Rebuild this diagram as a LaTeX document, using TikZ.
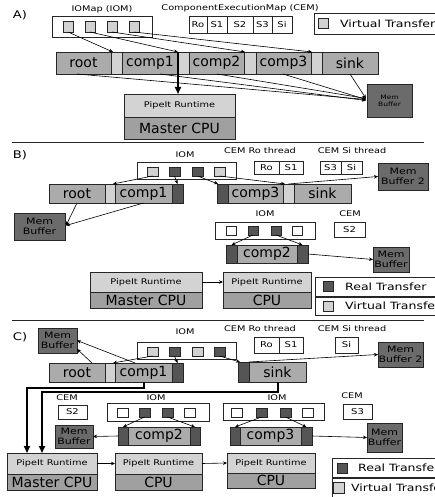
\documentclass[tikz,border=0pt]{standalone}
\usepackage{fontspec}
\setmainfont{DejaVu Sans}
\newfontfamily\wide[FakeStretch=1.25]{DejaVu Sans}
\usetikzlibrary{arrows.meta,calc}

\definecolor{cComp}{HTML}{ABABAB}
\definecolor{cLight}{HTML}{D2D2D2}
\definecolor{cDark}{HTML}{555555}
\definecolor{cMem}{HTML}{6B6B6B}
\definecolor{cRt}{HTML}{D3D3D3}
\definecolor{cCpu}{HTML}{A0A0A0}

% box placed by its top-left corner: name, x, y, width, height, style, text
\newcommand\bx[7]{\node[#6, minimum width=#4pt, minimum height=#5pt] (#1) at (#2,#3) {#7};}

\tikzset{
  base/.style={draw=black!85, line width=0.6pt, anchor=north west, inner sep=0pt, outer sep=0pt},
  plain/.style={base, fill=white},
  comp/.style={base, fill=cComp, font=\fontsize{14}{16}\selectfont},
  lite/.style={base, fill=cLight},
  dark/.style={base, fill=cDark},
  mem/.style={base, fill=cMem, align=center, font=\wide\fontsize{8.8}{9.8}\selectfont},
  memsmall/.style={mem, font=\wide\fontsize{6}{7}\selectfont},
  rt/.style={base, fill=cRt, font=\wide\fontsize{7.8}{9}\selectfont},
  cpu/.style={base, fill=cCpu, font=\fontsize{14}{16}\selectfont},
  cell/.style={base, fill=white, font=\wide\fontsize{8}{9}\selectfont},
  lbl/.style={font=\wide\fontsize{7.8}{9}\selectfont, inner sep=0pt},
  legtext/.style={anchor=west, inner sep=0pt, font=\wide\fontsize{10}{11}\selectfont},
  sec/.style={font=\wide\fontsize{10.5}{12}\selectfont, inner sep=0pt},
  link/.style={line width=0.6pt, -{Stealth[length=4pt,width=3.5pt]}},
  bold/.style={line width=1.6pt, -{Triangle[length=7pt,width=6pt]}},
  rule/.style={line width=0.6pt, draw=black!85},
}

\begin{document}
\begin{tikzpicture}[x=1pt,y=-1pt]
\clip (0,0) rectangle (435,497);
\fill[white] (0,0) rectangle (435,497);

% ---------------- A) single CPU, virtual transfers only ----------------
\node[sec] (secA) at (20,15) {A)};
\node[lbl] (iomAlbl) at (102,9.5) {IOMap (IOM)};
\bx{iomA}{52}{16}{100}{21}{plain}{}
\bx{qA1}{63}{21}{10}{11}{lite}{}
\bx{qA2}{85}{21}{10}{11}{lite}{}
\bx{qA3}{107}{21}{10}{11}{lite}{}
\bx{qA4}{129}{21}{10}{11}{lite}{}

\node[lbl] (cemAlbl) at (240,8) {ComponentExecutionMap (CEM)};
\bx{cRo}{189}{16}{18}{17}{cell}{Ro}
\bx{cS1}{207}{16}{20}{17}{cell}{S1}
\bx{cS2}{227}{16}{26}{17}{cell}{S2}
\bx{cS3}{253}{16}{19}{17}{cell}{S3}
\bx{cSi}{272}{16}{20}{17}{cell}{Si}

\bx{legA}{314}{13}{130}{21}{plain}{}
\bx{legAsq}{318}{18}{10}{10}{lite}{}
\node[legtext] (legAtxt) at (340,23.5) {Virtual Transfer};

\bx{rootA}{56}{52}{55}{22}{comp}{root}
\bx{lA1}{111}{52}{11}{22}{lite}{}
\bx{c1A}{122}{52}{56}{22}{comp}{comp1}
\bx{lA2}{178}{52}{11}{22}{lite}{}
\bx{c2A}{189}{52}{55}{22}{comp}{comp2}
\bx{lA3}{244}{52}{12}{22}{lite}{}
\bx{c3A}{256}{52}{55}{22}{comp}{comp3}
\bx{lA4}{311}{52}{11}{22}{lite}{}
\bx{sinkA}{322}{52}{56}{22}{comp}{sink}

\bx{rtA}{124}{94}{111}{23}{rt}{PipeIt Runtime}
\bx{cpuA}{124}{117}{111}{22}{cpu}{Master CPU}
\bx{memA}{367}{84}{45}{33}{memsmall}{Mem\\Buffer}

\draw[link] (qA1.south) -- ($(lA1.north west)+(2,0)$);
\draw[link] (qA2.south) -- ($(lA2.north west)+(0,0)$);
\draw[link] (qA3.south) -- ($(lA3.north west)+(1,0)$);
\draw[link] (qA4.south) -- ($(lA4.north west)+(1,0)$);

\draw[link] ($(rootA.south west)+(21,0)$) -- ($(memA.west)+(-1,-1)$);
\draw[link] ($(c1A.south west)+(38,0)$) -- ($(memA.west)+(-1,0)$);
\draw[link] ($(c2A.south west)+(28,0)$) -- ($(memA.west)+(-1,-2)$);
\draw[link] ($(c3A.south west)+(27,0)$) -- ($(memA.west)+(-1,-1)$);
\draw[link] ($(sinkA.south west)+(28,0)$) -- ($(memA.west)+(-1,-2)$);
\draw[bold] (lA2.north west) -- (lA2.north west |- rtA.north);

\draw[rule] (12,142) -- (424,142);

% ---------------- B) two CPUs ----------------
\node[sec] (secB) at (20,155) {B)};
\node[lbl] (iomBlbl) at (185,155) {IOM};
\bx{iomB}{137}{162}{99}{17}{plain}{}
\bx{qB1}{147}{167}{11}{9}{lite}{}
\bx{qB2}{169}{167}{11}{9}{dark}{}
\bx{qB3}{192}{167}{11}{9}{dark}{}
\bx{qB4}{214}{167}{11}{9}{lite}{}

\node[lbl] (cemRoB) at (260,151) {CEM Ro thread};
\bx{bRo}{254}{161}{25}{13}{cell}{Ro}
\bx{bS1}{279}{161}{24}{13}{cell}{S1}
\node[lbl] (cemSiB) at (352,151) {CEM Si thread};
\bx{bS3}{320}{161}{21}{13}{cell}{S3}
\bx{bSi}{341}{161}{21}{13}{cell}{Si}

\bx{rootB}{49}{184}{56}{19}{comp}{root}
\bx{lB1}{105}{184}{10}{19}{lite}{}
\bx{c1B}{115}{184}{57}{19}{comp}{comp1}
\bx{dB1}{172}{184}{11}{19}{dark}{}
\bx{dB2}{217}{184}{11}{19}{dark}{}
\bx{c3B}{228}{184}{55}{19}{comp}{comp3}
\bx{lB2}{283}{184}{11}{19}{lite}{}
\bx{sinkB}{294}{184}{57}{19}{comp}{sink}

\bx{memB2}{378}{163}{50}{27}{mem}{Mem\\Buffer 2}
\bx{memB1}{14}{213}{51}{27}{mem}{Mem\\Buffer}

\node[lbl] (iomB2lbl) at (265,214) {IOM};
\bx{iomB2}{215}{222}{100}{17}{plain}{}
\bx{pB1}{226}{226}{10}{9}{plain}{}
\bx{pB2}{248}{226}{10}{9}{dark}{}
\bx{pB3}{271}{226}{10}{9}{dark}{}
\bx{pB4}{292}{226}{10}{9}{plain}{}
\node[lbl] (cemB2lbl) at (350,214) {CEM};
\bx{bS2}{334}{222}{31}{15}{cell}{S2}

\bx{dB3}{226}{245}{11}{18}{dark}{}
\bx{c2B}{237}{245}{60}{18}{comp}{comp2}
\bx{dB4}{297}{245}{11}{18}{dark}{}
\bx{memB3}{373}{247}{36}{25}{mem}{Mem\\Buffer}

\bx{rtB1}{90}{272}{112}{20}{rt}{PipeIt Runtime}
\bx{cpuB1}{90}{292}{112}{16}{cpu}{Master CPU}
\bx{rtB2}{223}{272}{88}{20}{rt}{PipeIt Runtime}
\bx{cpuB2}{223}{292}{88}{16}{cpu}{CPU}

\bx{legBR}{315}{277}{130}{19}{plain}{}
\bx{legBRsq}{323}{281.5}{10}{10}{dark}{}
\node[legtext] (legBRtxt) at (345,286.5) {Real Transfer};
\bx{legBV}{315}{297}{130}{18}{plain}{}
\bx{legBVsq}{323}{301}{10}{10}{lite}{}
\node[legtext] (legBVtxt) at (345,306) {Virtual Transfer};

\draw[link] (qB1.south) -- ($(lB1.north east)+(-2,0)$);
\draw[link] (qB2.south) -- (dB1.north);
\draw[link] (qB3.south) -- ($(dB2.north west)+(1,0)$);
\draw[link] (qB4.south) -- ($(lB2.north west)+(2,0)$);
\draw[link] (lB2.north) -- (memB2.west);
\draw[link] (rootB.south) -- ($(memB1.east)+(1,-1)$);
\draw[link] (c1B.south) -- ($(memB1.east)+(1,-1)$);
\draw[link] (pB2.south) -- (dB3.north);
\draw[link] (pB3.south) -- (dB4.north);
\draw[link] (dB4.east) -- (memB3.west);
\draw[link] (rtB1.east) -- (rtB2.west);

\draw[rule] (12,320) -- (424,320);

% ---------------- C) three CPUs ----------------
\node[sec] (secC) at (20,337) {C)};
\bx{memC1}{38}{328}{39}{25}{mem}{Mem\\Buffer}
\node[lbl] (iomClbl) at (185,332) {IOM};
\bx{iomC}{137}{342}{99}{17}{plain}{}
\bx{qC1}{147}{347}{11}{9}{lite}{}
\bx{qC2}{169}{347}{11}{9}{dark}{}
\bx{qC3}{192}{347}{11}{9}{lite}{}
\bx{qC4}{214}{347}{11}{9}{dark}{}

\node[lbl] (cemRoC) at (260,329) {CEM Ro thread};
\bx{cRoC}{254}{337}{25}{16}{cell}{Ro}
\bx{cS1C}{279}{337}{24}{16}{cell}{S1}
\node[lbl] (cemSiC) at (352,329) {CEM Si thread};
\bx{cSiC}{335}{337}{23}{16}{cell}{Si}
\bx{memC2}{378}{342}{45}{25}{mem}{Mem\\Buffer 2}

\bx{rootC}{49}{363}{56}{19}{comp}{root}
\bx{lC1}{105}{363}{10}{19}{lite}{}
\bx{c1C}{115}{363}{57}{19}{comp}{comp1}
\bx{dC1}{172}{363}{11}{19}{dark}{}
\bx{dC2}{238}{362}{11}{20}{dark}{}
\bx{sinkC}{249}{362}{57}{20}{comp}{sink}

% comp2 on the second CPU
\node[lbl] (cemC2lbl) at (67,398) {CEM};
\bx{cS2C}{58}{405}{29}{14}{cell}{S2}
\node[lbl] (iomC2lbl) at (156,398) {IOM};
\bx{iomC2}{107}{403}{102}{18}{plain}{}
\bx{pC1}{117}{408}{11}{9}{plain}{}
\bx{pC2}{139}{408}{11}{9}{dark}{}
\bx{pC3}{162}{408}{11}{9}{dark}{}
\bx{pC4}{184}{408}{11}{9}{plain}{}
\bx{dC3}{118}{427}{10}{18}{dark}{}
\bx{c2C}{128}{427}{62}{18}{comp}{comp2}
\bx{dC4}{190}{427}{10}{18}{dark}{}
\bx{memC3}{55}{425}{38}{23}{mem}{Mem\\Buffer}

% comp3 on the third CPU
\node[lbl] (iomC3lbl) at (277,398) {IOM};
\bx{iomC3}{223}{403}{101}{17}{plain}{}
\bx{rC1}{231}{408}{11}{9}{plain}{}
\bx{rC2}{256}{408}{11}{9}{dark}{}
\bx{rC3}{280}{408}{11}{9}{dark}{}
\bx{rC4}{302}{408}{11}{9}{plain}{}
\node[lbl] (cemC3lbl) at (352,396) {CEM};
\bx{cS3C}{343}{404}{29}{15}{cell}{S3}
\bx{dC5}{230}{427}{10}{18}{dark}{}
\bx{c3C}{240}{427}{61}{18}{comp}{comp3}
\bx{dC6}{301}{427}{11}{18}{dark}{}
\bx{memC4}{367}{423}{35}{29}{mem}{Mem\\Buffer}

\bx{rtC1}{7}{453}{90}{21}{rt}{PipeIt Runtime}
\bx{cpuC1}{7}{474}{90}{16}{cpu}{Master CPU}
\bx{rtC2}{115}{453}{87}{21}{rt}{PipeIt Runtime}
\bx{cpuC2}{115}{474}{87}{16}{cpu}{CPU}
\bx{rtC3}{227}{453}{88}{20}{rt}{PipeIt Runtime}
\bx{cpuC3}{227}{473}{88}{15}{cpu}{CPU}

\bx{legCR}{332}{458}{110}{19}{plain}{}
\bx{legCRsq}{337}{463}{10}{10}{dark}{}
\node[legtext] (legCRtxt) at (358,467.5) {Real Transfer};
\bx{legCV}{332}{478}{110}{19}{plain}{}
\bx{legCVsq}{333}{482.5}{11}{11}{lite}{}
\node[legtext] (legCVtxt) at (351,487.5) {Virtual Transfer};

\draw[link] (qC1.south) -- ($(lC1.north east)+(-2,0)$);
\draw[link] (qC2.south) -- (dC1.north);
\draw[link] (qC4.south) -- ($(dC2.north west)+(2,0)$);
\draw[link] (dC2.north east) -- (memC2.west);
\draw[link] ($(rootC.north west)+(43,0)$) -- ($(memC1.south east)+(0,-4)$);
\draw[link] ($(c1C.north west)+(20,0)$) -- (memC1.east);
\draw[bold] ($(c1C.south west)+(29,0)$) -- ++(0,6) -| ($(rtC1.north west)+(20,0)$);
\draw[bold] ($(sinkC.south west)+(29,0)$) -- ++(0,10) -| ($(rtC1.north west)+(35,0)$);

\draw[link] (pC2.south) -- (dC3.north);
\draw[link] (pC3.south) -- (dC4.north);
\draw[link] (dC3.west) -- (memC3.east);
\draw[link] (rC2.south) -- (dC5.north);
\draw[link] (rC3.south) -- (dC6.north);
\draw[link] (dC6.east) -- (memC4.west);
\draw[link] (rtC1.east) -- (rtC2.west);
\draw[link] (rtC2.east) -- (rtC3.west);
\end{tikzpicture}
\end{document}
